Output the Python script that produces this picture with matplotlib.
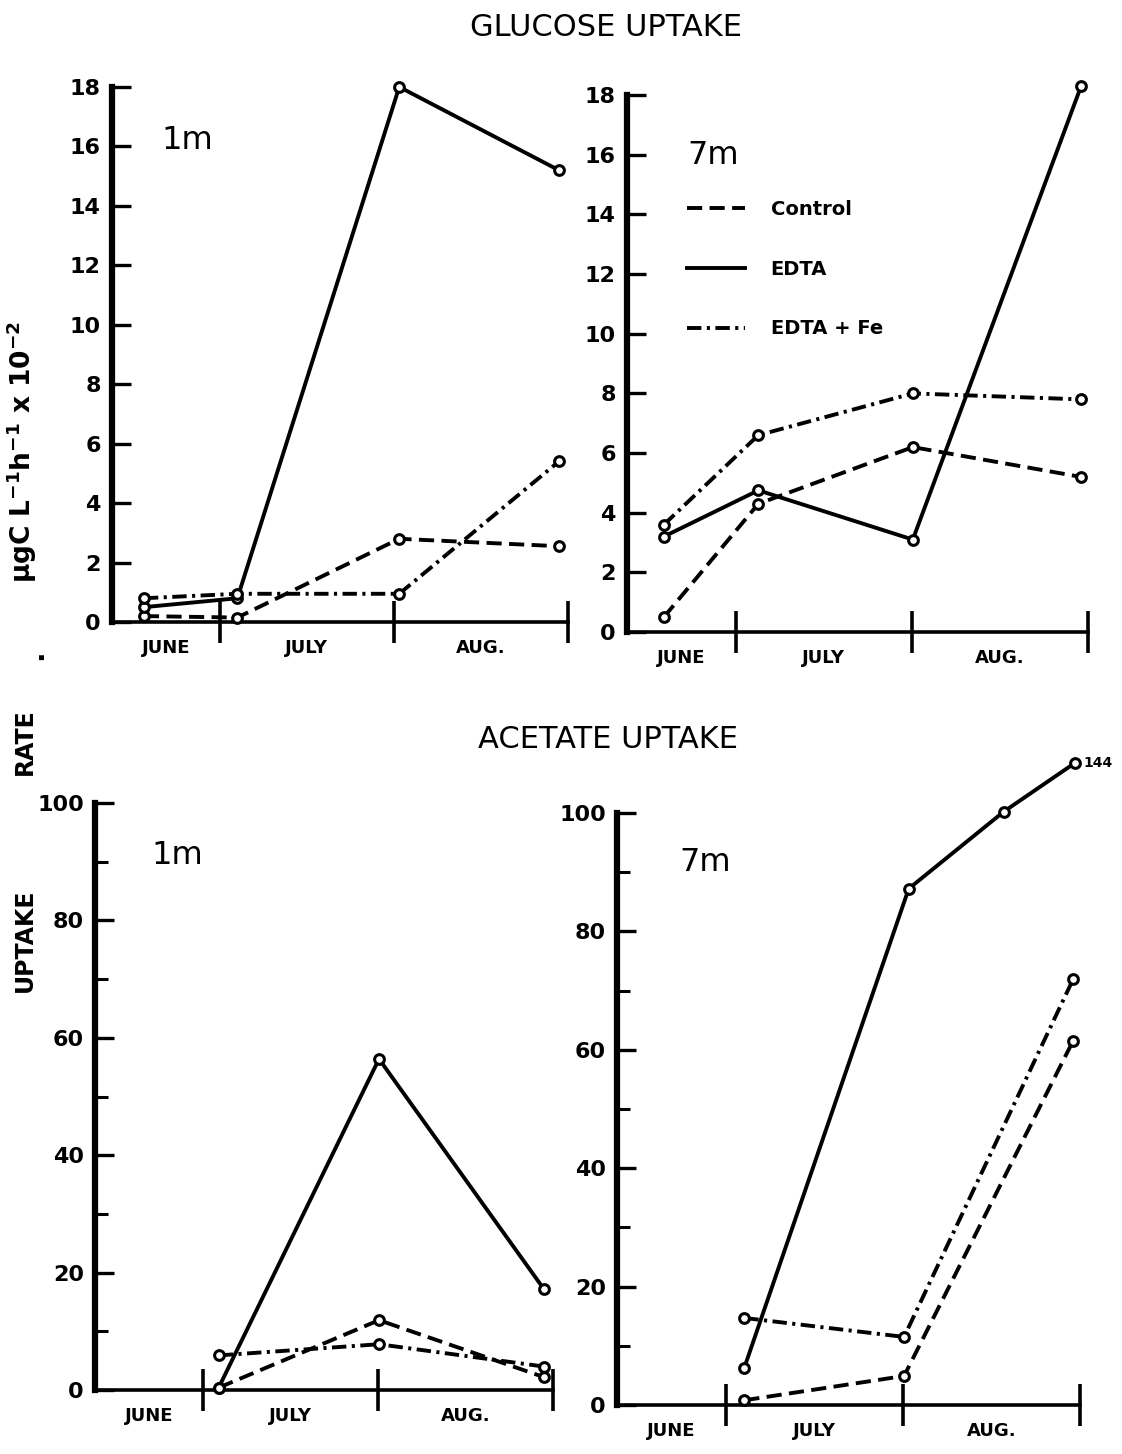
import matplotlib
matplotlib.use("Agg")
import matplotlib.pyplot as plt
from matplotlib.lines import Line2D
import numpy as np

plt.rcParams["font.family"] = ["DejaVu Sans"]
plt.rcParams["font.weight"] = "bold"
plt.rcParams["mathtext.default"] = "regular"

# ---------- data ----------
# x axis runs 0-100 across the season; month boundaries as drawn on the original
month_names = ["JUNE", "JULY", "AUG."]
month_edges = [0, 23.6, 61.8, 100]

# glucose uptake, 1 m
glu1_x = [7, 27.5, 63, 98]
glu1_control = [0.2, 0.15, 2.8, 2.55]
glu1_edta = [0.5, 0.8, 18.0, 15.2]
glu1_edta_fe = [0.8, 0.95, 0.95, 5.4]

# glucose uptake, 7 m
glu7_x = [8, 28.5, 62, 98.5]
glu7_control = [0.5, 4.3, 6.2, 5.2]
glu7_edta = [3.2, 4.75, 3.1, 18.3]
glu7_edta_fe = [3.6, 6.6, 8.0, 7.8]

# acetate uptake, 1 m (no June samples)
ace1_x = [27, 62, 98]
ace1_control = [0.4, 11.9, 2.2]
ace1_edta = [0.4, 56.4, 17.2]
ace1_edta_fe = [5.9, 7.8, 4.0]

# acetate uptake, 7 m
ace7_x = [27.5, 62, 98.5]
ace7_control = [0.8, 4.9, 61.5]
ace7_edta_fe = [14.7, 11.5, 71.9]
ace7_edta_x = [27.5, 63, 83.5, 99]
ace7_edta = [6.3, 87.2, 100.2, 144]
ACE_BREAK = 108.5   # off-scale values are drawn here and labelled

LW = 2.8
LS = {
    "Control": (0, (3.9, 1.9)),
    "EDTA": "-",
    "EDTA + Fe": (0, (3.7, 1.4, 0.8, 1.4)),
}


def style_panel(ax, ymax, major, minor=None):
    ax.set_xlim(0, 100)
    ax.set_ylim(0, ymax)
    for s in ["top", "right"]:
        ax.spines[s].set_visible(False)
    ax.spines["left"].set_linewidth(4.5)
    ax.spines["bottom"].set_linewidth(2.6)
    ax.set_yticks(np.arange(0, ymax + 1, major))
    ax.tick_params(axis="y", which="major", direction="in", length=14,
                   width=2.4, labelsize=16, pad=8)
    if minor:
        ax.set_yticks(np.arange(minor, ymax, major), minor=True)
        ax.tick_params(axis="y", which="minor", direction="in", length=9, width=2.2)
    ax.set_xticks(month_edges[1:])
    ax.set_xticklabels([])
    ax.tick_params(axis="x", which="major", direction="inout", length=30, width=2.6)
    centers = [(a + b) / 2 for a, b in zip(month_edges[:-1], month_edges[1:])]
    ax.set_xticks(centers, minor=True)
    ax.set_xticklabels(month_names, minor=True, fontsize=13, fontweight="heavy")
    ax.tick_params(axis="x", which="minor", length=0, pad=12)


def draw(ax, x, y, kind):
    ax.plot(x, y, color="black", lw=LW, ls=LS[kind], marker="o", ms=7,
            mfc="white", mec="black", mew=2.2, clip_on=False, zorder=3)


fig = plt.figure(figsize=(11.22, 14.54), dpi=100)
ax1 = fig.add_axes([0.0998, 0.5722, 0.4064, 0.368])
ax2 = fig.add_axes([0.5588, 0.5653, 0.4109, 0.3693])
ax3 = fig.add_axes([0.0847, 0.0440, 0.4082, 0.4037])
ax4 = fig.add_axes([0.5499, 0.0337, 0.4127, 0.4072])

for ax in (ax1, ax2):
    style_panel(ax, 18, 2)
for ax in (ax3, ax4):
    style_panel(ax, 100, 20, minor=10)

draw(ax1, glu1_x, glu1_control, "Control")
draw(ax1, glu1_x, glu1_edta, "EDTA")
draw(ax1, glu1_x, glu1_edta_fe, "EDTA + Fe")

draw(ax2, glu7_x, glu7_control, "Control")
draw(ax2, glu7_x, glu7_edta, "EDTA")
draw(ax2, glu7_x, glu7_edta_fe, "EDTA + Fe")

draw(ax3, ace1_x, ace1_control, "Control")
draw(ax3, ace1_x, ace1_edta, "EDTA")
draw(ax3, ace1_x, ace1_edta_fe, "EDTA + Fe")

draw(ax4, ace7_x, ace7_control, "Control")
draw(ax4, ace7_x, ace7_edta_fe, "EDTA + Fe")
edta_shown = np.minimum(ace7_edta, ACE_BREAK)
draw(ax4, ace7_edta_x, edta_shown, "EDTA")
ax4.annotate(f"{ace7_edta[-1]:g}", (ace7_edta_x[-1], edta_shown[-1]),
             xytext=(6, 0), textcoords="offset points", va="center",
             fontsize=10, fontweight="bold", annotation_clip=False)

# depth labels
for ax, label, pos in [(ax1, "1m", (0.165, 0.90)), (ax2, "7m", (0.187, 0.888)),
                       (ax3, "1m", (0.179, 0.911)), (ax4, "7m", (0.19, 0.917))]:
    ax.text(*pos, label, transform=ax.transAxes, fontsize=23,
            fontweight="normal", ha="center", va="center")

# legend
handles = [Line2D([], [], color="black", lw=LW, ls=LS[k]) for k in LS]
ax2.legend(handles, list(LS), loc="upper left", bbox_to_anchor=(0.13, 0.805),
           frameon=False, handlelength=3.0, handletextpad=1.3,
           labelspacing=2.1, borderpad=0, borderaxespad=0,
           prop={"weight": "bold", "size": 14})

# titles
fig.text(0.540, 1 - 28 / 1454, "GLUCOSE UPTAKE", ha="center", va="center",
         fontsize=22, fontweight="normal")
fig.text(0.542, 1 - 740 / 1454, "ACETATE UPTAKE", ha="center", va="center",
         fontsize=22, fontweight="normal")

# shared y label
fig.text(0.022, 1 - 940 / 1454, "UPTAKE", rotation=90, ha="center",
         va="center", fontsize=17, fontweight="bold")
fig.text(0.022, 1 - 742 / 1454, "RATE", rotation=90, ha="center",
         va="center", fontsize=17, fontweight="bold")
fig.text(0.030, 1 - 655 / 1454, ".", rotation=90, ha="center",
         va="center", fontsize=20, fontweight="bold")
fig.text(0.019, 1 - 452 / 1454,
         r"$\mu$gC L$^{-1}$h$^{-1}$ x 10$^{-2}$", rotation=90,
         ha="center", va="center", fontsize=19, fontweight="bold")

fig.savefig("out.png", dpi=100, facecolor="white")
